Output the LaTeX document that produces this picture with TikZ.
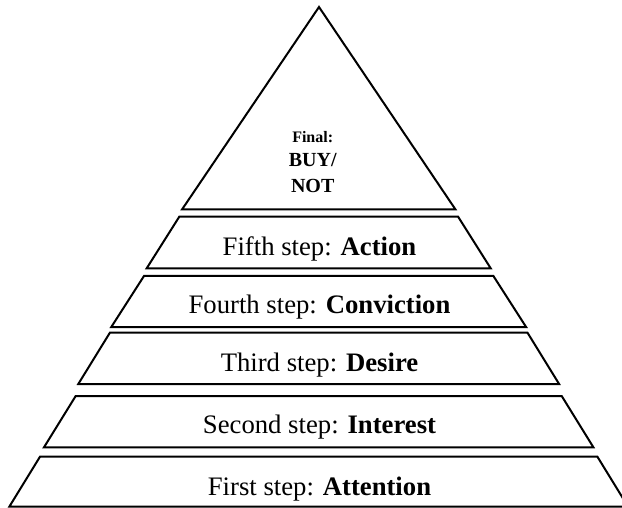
\documentclass[tikz,border=0pt]{standalone}
\usepackage{fontspec}
\setmainfont{Liberation Serif}
\begin{document}
\begin{tikzpicture}[x=1pt,y=-1pt,
  tier/.style={draw=black, line width=2pt, line join=miter},
  steplabel/.style={anchor=base, inner sep=0pt, font=\fontsize{26.7}{32}\selectfont},
  finallabel/.style={anchor=base, inner sep=0pt, font=\bfseries\fontsize{16}{19}\selectfont},
  choicelabel/.style={anchor=base, inner sep=0pt, font=\bfseries\fontsize{20}{24}\selectfont}]
\useasboundingbox (0,0) rectangle (622,508);
\clip (0,0) rectangle (622,508);
\def\cx{318.7}
% apex of the pyramid
\draw[tier] (319,7) -- (455.5,209.5) -- (182,209.5) -- cycle;
% the five stacked tiers: top y / bottom y / top half-width / bottom half-width
\foreach \yt/\yb/\ht/\hb in {216.7/268.3/139.4/172,
                             276/327/174.7/207.4,
                             332.7/384/208.8/240.4,
                             396/447.3/243/274.7,
                             456.7/506.7/278.7/309.4}
  \draw[tier] (\cx-\ht,\yt) -- (\cx+\ht,\yt) -- (\cx+\hb,\yb) -- (\cx-\hb,\yb) -- cycle;
% labels
\node[finallabel]  (final) at (312.7,142.3) {Final:};
\node[choicelabel] (buy)   at (312.7,166.7) {BUY/};
\node[choicelabel] (not)   at (312.7,192.5) {NOT};
\node[steplabel] (s5) at (319.5,255)   {Fifth step: \textbf{Action}};
\node[steplabel] (s4) at (319.5,313.3) {Fourth step: \textbf{Conviction}};
\node[steplabel] (s3) at (319.5,371.7) {Third step: \textbf{Desire}};
\node[steplabel] (s2) at (319.5,433)   {Second step: \textbf{Interest}};
\node[steplabel] (s1) at (319.5,495)   {First step: \textbf{Attention}};
\end{tikzpicture}
\end{document}
